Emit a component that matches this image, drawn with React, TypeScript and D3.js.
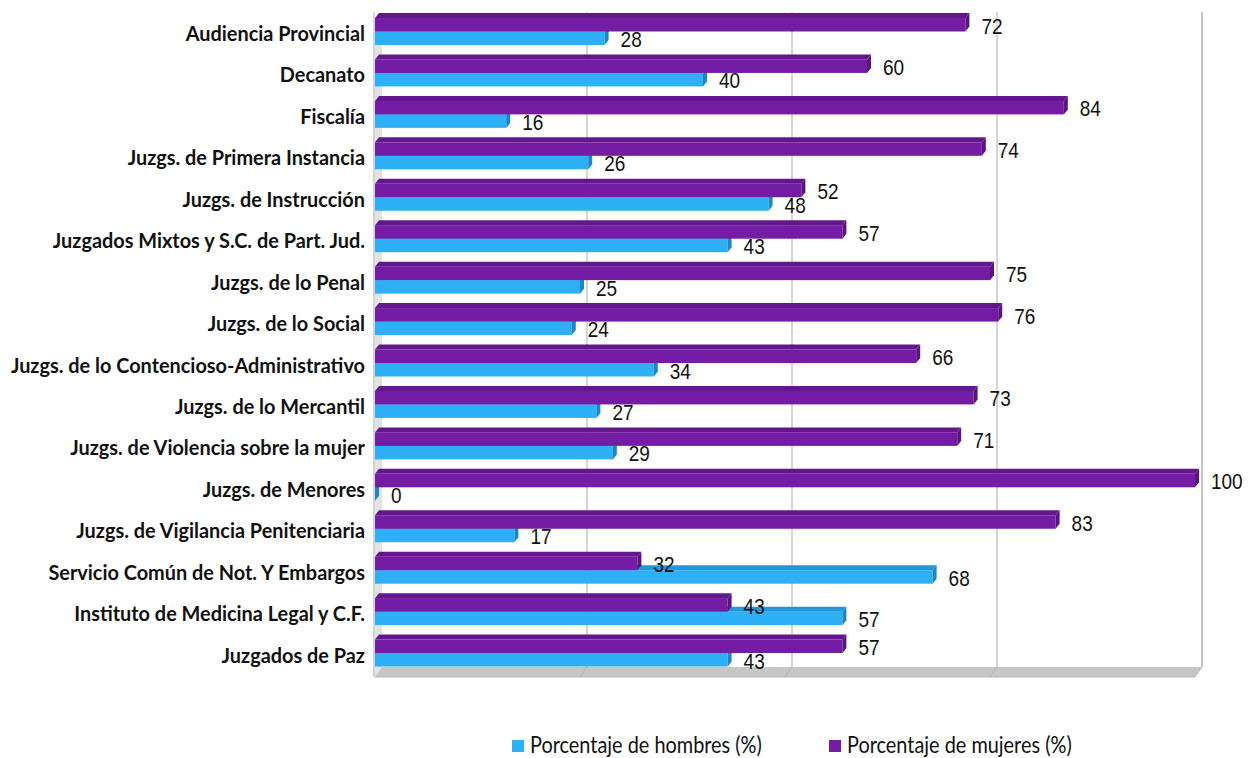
import React from "react";
import * as d3 from "d3";

const categories = [
  "Audiencia Provincial",
  "Decanato",
  "Fiscalía",
  "Juzgs. de Primera Instancia",
  "Juzgs. de Instrucción",
  "Juzgados Mixtos y S.C. de Part. Jud.",
  "Juzgs. de lo Penal",
  "Juzgs. de lo Social",
  "Juzgs. de lo Contencioso-Administrativo",
  "Juzgs. de lo Mercantil",
  "Juzgs. de Violencia sobre la mujer",
  "Juzgs. de Menores",
  "Juzgs. de Vigilancia Penitenciaria",
  "Servicio Común de Not. Y Embargos",
  "Instituto de Medicina Legal y C.F.",
  "Juzgados de Paz",
];
const mujeres = [72, 60, 84, 74, 52, 57, 75, 76, 66, 73, 71, 100, 83, 32, 43, 57];
const hombres = [28, 40, 16, 26, 48, 43, 25, 24, 34, 27, 29, 0, 17, 68, 57, 43];
const gridTicks = [25, 50, 75];
const legendLabels = ["Porcentaje de hombres (%)", "Porcentaje de mujeres (%)"];

const W = 1259;
const H = 758;
const BLUE = "#2eb0f6";
const BLUE_TOP = "#2497d8";
const BLUE_CAP = "#1f86c4";
const PURPLE = "#741ca4";
const PURPLE_TOP = "#63178d";
const PURPLE_CAP = "#5a1482";

export default function App() {
  const x = d3.scaleLinear().domain([0, 100]).range([375, 1195]);
  const y = d3.scaleBand<string>().domain(categories).range([13, 676]).padding(0);
  const wdx = 7;
  const wdy = 10;
  const top = 12;
  const floorY = 667;
  const dx = 4;
  const dy = 5;

  const bar = (v: number, b: number, fy0: number, fy1: number, front: string, topC: string, cap: string, key: string) => {
    const x0 = x(0);
    const x1 = x(v);
    return (
      <g key={key}>
        <polygon
          points={`${x0},${b + fy0} ${x1},${b + fy0} ${x1 + dx},${b + fy0 - dy} ${x0 + dx},${b + fy0 - dy}`}
          fill={topC}
        />
        <rect x={x0} y={b + fy0} width={Math.max(0, x1 - x0)} height={fy1 - fy0} fill={front} />
        <polygon
          points={`${x1},${b + fy0} ${x1 + dx},${b + fy0 - dy} ${x1 + dx},${b + fy1 - dy} ${x1},${b + fy1}`}
          fill={cap}
        />
      </g>
    );
  };

  return (
    <svg width={W} height={H} style={{ position: "absolute", left: 0, top: 0 }}>
      <rect x={0} y={0} width={W} height={H} fill="#ffffff" />
      <polygon
        points={`${x(0)},${top + wdy} ${x(0) + wdx},${top} ${x(0) + wdx},${floorY} ${x(0)},${floorY + wdy}`}
        fill="#e3e3e3"
      />
      <line x1={x(0) - 1} x2={x(0) - 1} y1={top} y2={floorY + wdy} stroke="#c4c4c4" strokeWidth={1.5} />
      <polygon
        points={`${x(0) + wdx},${floorY} ${x(100) + wdx},${floorY} ${x(100)},${floorY + wdy} ${x(0)},${floorY + wdy}`}
        fill="#c6c6c6"
      />
      <line x1={x(0)} x2={x(100)} y1={floorY + wdy} y2={floorY + wdy} stroke="#b8b8b8" strokeWidth={1} />
      {gridTicks.map((t) => (
        <g key={t}>
          <line x1={x(t) + wdx} x2={x(t) + wdx} y1={top} y2={floorY} stroke="#c8c8c8" strokeWidth={1.5} />
          <line x1={x(t) + wdx} x2={x(t)} y1={floorY} y2={floorY + wdy} stroke="#b4b4b4" strokeWidth={1} />
        </g>
      ))}
      <line x1={x(100) + wdx} x2={x(100) + wdx} y1={top} y2={floorY} stroke="#c4c4c4" strokeWidth={2} />
      <line x1={x(100) + wdx} x2={x(100)} y1={floorY} y2={floorY + wdy} stroke="#b8b8b8" strokeWidth={1} />

      {categories.map((c, i) => {
        const b = y(c) as number;
        return (
          <g key={c}>
            {bar(hombres[i], b, 18.5, 32, BLUE, BLUE_TOP, BLUE_CAP, "h")}
            {bar(mujeres[i], b, 5, 18.5, PURPLE, PURPLE_TOP, PURPLE_CAP, "m")}
          </g>
        );
      })}

      {categories.map((c, i) => {
        const b = y(c) as number;
        return (
          <g key={"l" + c} fontFamily="'Liberation Sans', Arial, sans-serif" fontSize={19} fill="#111">
            <text transform={`translate(${x(mujeres[i]) + 16},${b + 20.5}) scale(1,1.18)`}>{mujeres[i]}</text>
            <text transform={`translate(${x(hombres[i]) + 16},${b + 34}) scale(1,1.18)`}>{hombres[i]}</text>
          </g>
        );
      })}

      {categories.map((c) => {
        const b = y(c) as number;
        return (
          <text
            key={"c" + c}
            transform={`translate(365,${b + 28}) scale(1,1.02)`}
            textAnchor="end"
            fontFamily="Lato, 'Noto Sans', sans-serif"
            fontWeight="bold"
            fontSize={19.9}
            fill="#111"
          >
            {c}
          </text>
        );
      })}

      {legendLabels.map((l, i) => {
        const lx = i === 0 ? 512 : 829;
        return (
          <g key={l}>
            <rect x={lx} y={740} width={12} height={12} fill={i === 0 ? BLUE : PURPLE} />
            <text
              transform={`translate(${lx + 18},753) scale(1,1.13)`}
              fontFamily="Lato, 'Noto Sans', sans-serif"
              fontSize={19.9}
              fill="#111"
            >
              {l}
            </text>
          </g>
        );
      })}
    </svg>
  );
}
